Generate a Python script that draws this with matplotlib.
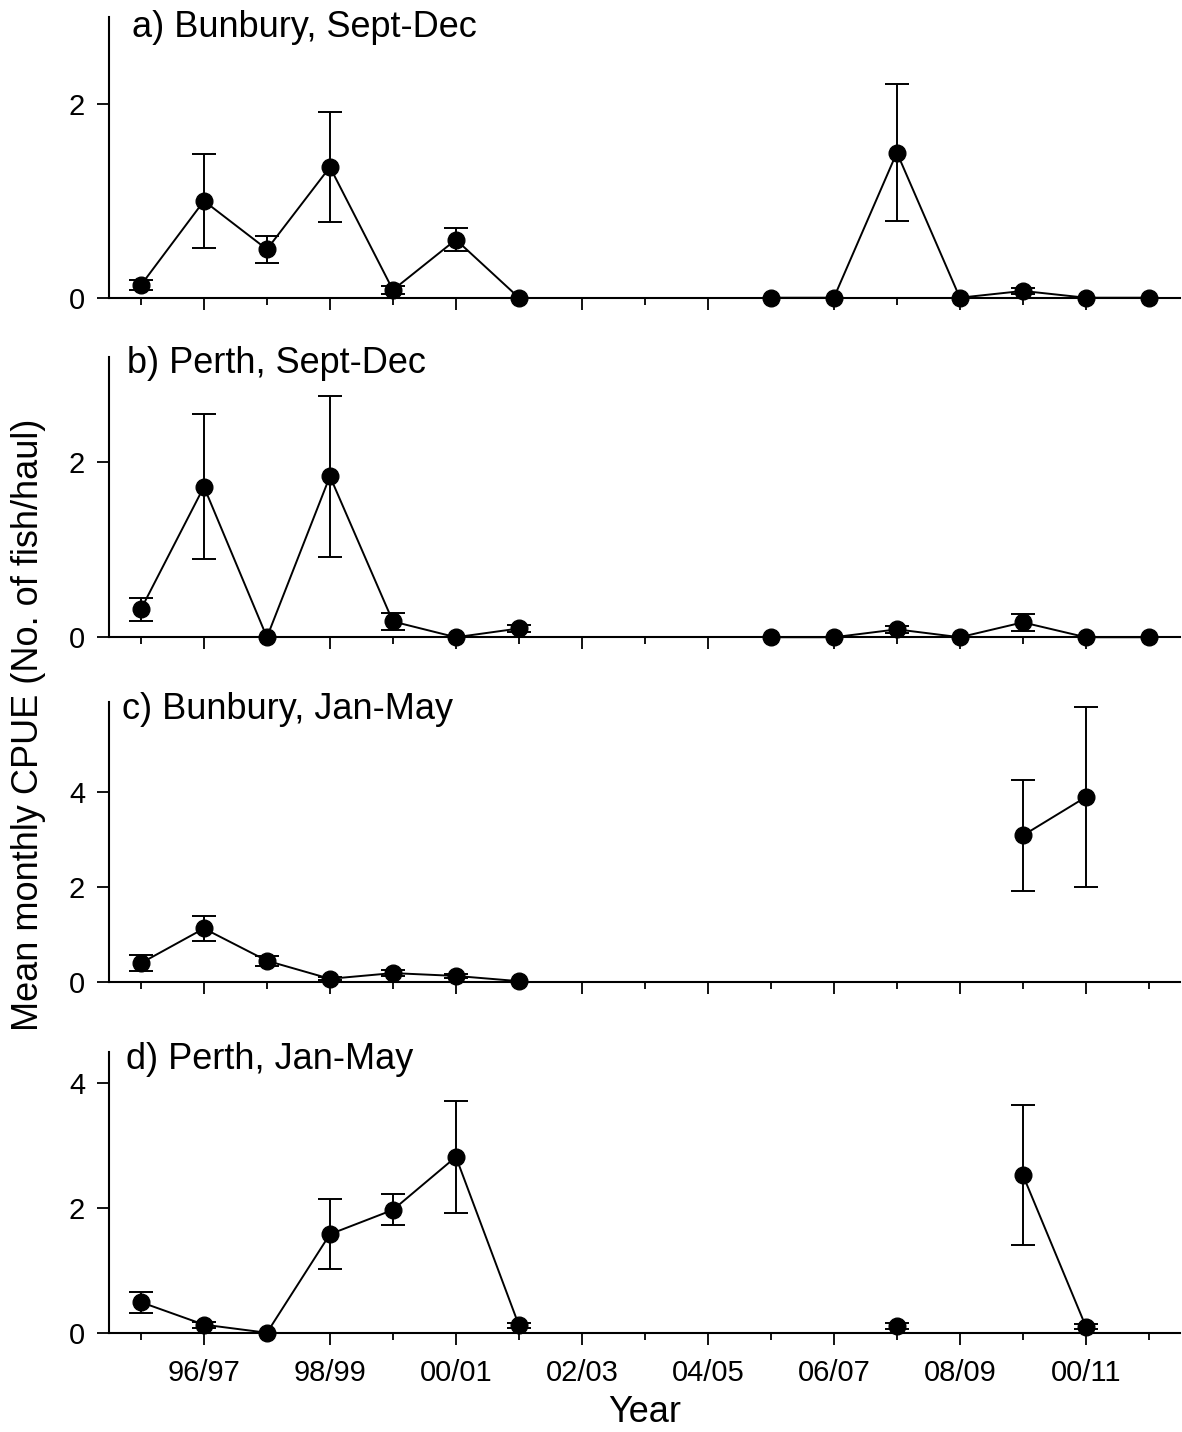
import numpy as np
import matplotlib
matplotlib.use("Agg")
from matplotlib import pyplot as plt

plt.rcParams['font.family'] = ['Liberation Sans', 'DejaVu Sans']

# seasons 95/96 .. 11/12 (17 positions); nan = no sampling
seasons = ['95/96', '96/97', '97/98', '98/99', '99/00', '00/01', '01/02', '02/03', '03/04',
           '04/05', '05/06', '06/07', '07/08', '08/09', '09/10', '10/11', '11/12']
tick_labels = ['96/97', '98/99', '00/01', '02/03', '04/05', '06/07', '08/09', '00/11']
nan = np.nan

a_mean = [0.13, 1.0, 0.5, 1.35, 0.08, 0.6, 0.0, nan, nan, nan, 0.0, 0.0, 1.5, 0.0, 0.07, 0.0, 0.0]
a_se = [0.05, 0.49, 0.14, 0.57, 0.04, 0.12, 0.0, nan, nan, nan, 0.0, 0.0, 0.71, 0.0, 0.03, 0.0, 0.0]

b_mean = [0.32, 1.72, 0.0, 1.84, 0.18, 0.0, 0.1, nan, nan, nan, 0.0, 0.0, 0.09, 0.0, 0.17, 0.0, 0.0]
b_se = [0.13, 0.83, 0.0, 0.92, 0.095, 0.0, 0.04, nan, nan, nan, 0.0, 0.0, 0.04, 0.0, 0.1, 0.0, 0.0]

c_mean = [0.39, 1.12, 0.44, 0.06, 0.18, 0.12, 0.01, nan, nan, nan, nan, nan, nan, nan, 3.08, 3.89, nan]
c_se = [0.17, 0.27, 0.11, 0.03, 0.06, 0.05, 0.0, nan, nan, nan, nan, nan, nan, nan, 1.17, 1.9, nan]

d_mean = [0.49, 0.13, 0.0, 1.58, 1.97, 2.82, 0.12, nan, nan, nan, nan, nan, 0.11, nan, 2.53, 0.1, nan]
d_se = [0.17, 0.05, 0.0, 0.56, 0.25, 0.9, 0.04, nan, nan, nan, nan, nan, 0.05, nan, 1.12, 0.04, nan]

panels = [
    ("a) Bunbury, Sept-Dec", a_mean, a_se, 2.9, [0, 2], 0.929, 0.021),
    ("b) Perth, Sept-Dec", b_mean, b_se, 3.2, [0, 2], 0.943, 0.016),
    ("c) Bunbury, Jan-May", c_mean, c_se, 5.9, [0, 2, 4], 0.937, 0.012),
    ("d) Perth, Jan-May", d_mean, d_se, 4.5, [0, 2, 4], 0.941, 0.015),
]
# axes boxes in figure fractions [left, bottom, width, height]
boxes = [[0.0926, 0.7921, 0.906, 0.196],
         [0.0926, 0.5550, 0.906, 0.1955],
         [0.0926, 0.3145, 0.906, 0.1955],
         [0.0926, 0.0693, 0.906, 0.196]]

fig = plt.figure(figsize=(11.82, 14.32), dpi=100)
x = np.arange(len(seasons))

for i, (title, mean, se, ytop, yt, ty, tx) in enumerate(panels):
    ax = fig.add_axes(boxes[i])
    mean = np.array(mean)
    se = np.array(se)
    err = np.where(se > 0, se, nan)
    ax.plot(x, mean, '-', color='black', lw=1.4, clip_on=False, zorder=2)
    ebar = ax.errorbar(x, mean, yerr=err, fmt='none', ecolor='black', elinewidth=1.4,
                       capsize=8.3, capthick=1.4, zorder=3)
    for art in ebar.get_children():
        art.set_clip_on(False)
    ax.plot(x, mean, 'o', color='black', ms=12, clip_on=False, zorder=4)

    ax.set_xlim(-0.5, 16.5)
    ax.set_ylim(0, ytop)
    ax.set_yticks(yt)
    ax.set_xticks(x[1::2])
    ax.set_xticks(x[0::2], minor=True)
    for s in ['top', 'right']:
        ax.spines[s].set_visible(False)
    for s in ['left', 'bottom']:
        ax.spines[s].set_linewidth(1.5)
    ax.tick_params(axis='y', direction='out', length=8.6, width=1.3, labelsize=21, pad=9)
    ax.tick_params(axis='x', which='major', direction='out', length=8.6, width=1.3, labelsize=21, pad=10)
    ax.tick_params(axis='x', which='minor', direction='out', length=5, width=1.3)
    if i == 3:
        ax.set_xticklabels(tick_labels)
        ax.set_xlabel('Year', fontsize=26, labelpad=6)
    else:
        ax.set_xticklabels([])
    ax.text(tx, ty, title, transform=ax.transAxes, fontsize=26, ha='left', va='baseline')

fig.text(0.024, 0.494, 'Mean monthly CPUE (No. of fish/haul)', rotation=90,
         fontsize=26, ha='center', va='center')

fig.savefig('out.png', dpi=100)
